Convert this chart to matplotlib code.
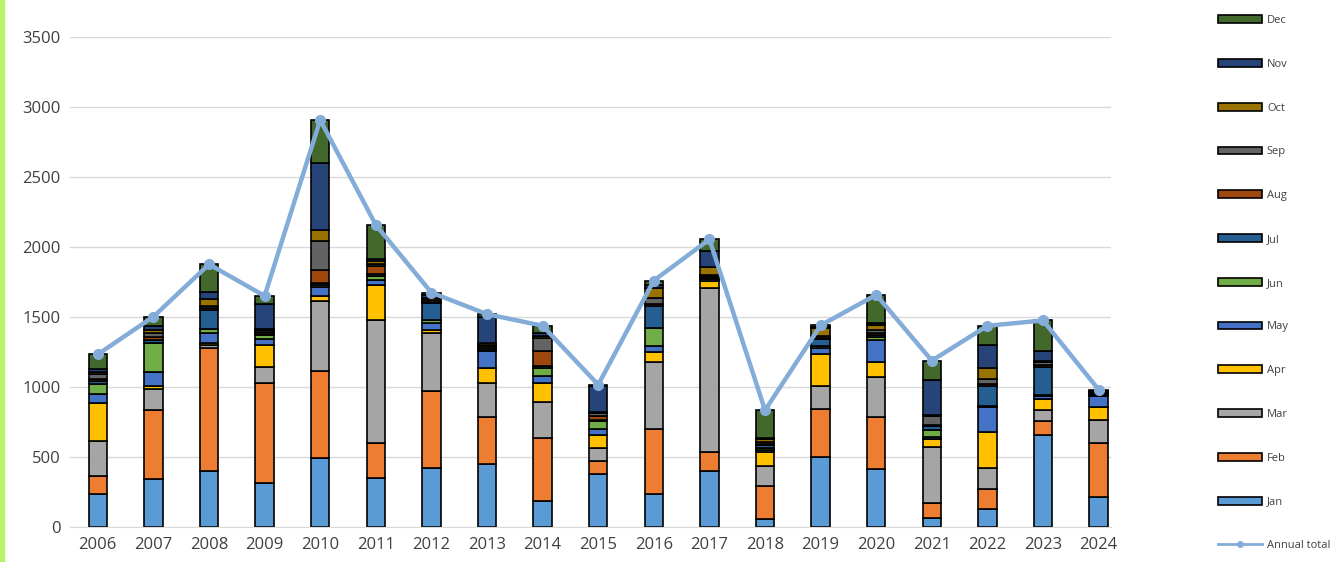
import numpy as np
import matplotlib.pyplot as plt
from matplotlib.patches import Rectangle

years = [str(y) for y in range(2006, 2025)]
months = ['Jan', 'Feb', 'Mar', 'Apr', 'May', 'Jun', 'Jul', 'Aug', 'Sep', 'Oct', 'Nov', 'Dec']

# monthly counts per year
jan = [238, 340, 400, 317, 495, 352, 423, 447, 185, 375, 233, 399, 55, 499, 411, 67, 126, 660, 214]
feb = [126, 493, 881, 714, 619, 249, 546, 337, 451, 95, 467, 138, 237, 344, 373, 102, 142, 100, 387]
mar = [250, 150, 17, 112, 500, 874, 420, 244, 257, 95, 476, 1173, 147, 162, 285, 401, 155, 78, 166]
apr = [269, 24, 19, 155, 36, 254, 15, 107, 135, 95, 71, 47, 95, 232, 107, 59, 256, 76, 88]
may = [65, 100, 71, 42, 64, 36, 52, 119, 48, 40, 43, 12, 19, 41, 161, 15, 176, 19, 78]
jun = [71, 210, 24, 29, 12, 28, 24, 12, 59, 55, 130, 7, 12, 12, 17, 52, 12, 12, 7]
jul = [24, 19, 136, 9, 14, 14, 118, 12, 17, 12, 159, 7, 17, 52, 19, 24, 142, 197, 7]
aug = [17, 24, 19, 14, 96, 57, 12, 12, 102, 23, 15, 7, 12, 10, 12, 9, 12, 17, 7]
sep = [30, 25, 12, 13, 207, 16, 12, 10, 95, 25, 40, 10, 16, 10, 23, 62, 36, 17, 7]
oct_ = [17, 20, 47, 7, 76, 20, 13, 12, 17, 9, 71, 60, 15, 58, 36, 12, 78, 12, 6]
nov = [19, 31, 53, 178, 483, 14, 23, 191, 19, 181, 24, 111, 11, 10, 12, 249, 167, 66, 7]
dec = [107, 66, 197, 60, 305, 243, 16, 17, 52, 11, 31, 83, 198, 10, 202, 136, 135, 221, 7]

annual_total = [1233, 1502, 1876, 1650, 2907, 2157, 1674, 1520, 1437, 1016, 1760, 2054,
                834, 1440, 1658, 1188, 1437, 1475, 981]

monthly = [jan, feb, mar, apr, may, jun, jul, aug, sep, oct_, nov, dec]
colors = ['#5B9BD5', '#ED7D31', '#A5A5A5', '#FFC000', '#4472C4', '#70AD47',
          '#255E91', '#9E480E', '#636363', '#997300', '#264478', '#43682B']
line_color = '#84ACD8'

fig = plt.figure(figsize=(13.31, 5.62), dpi=100)
ax = fig.add_axes([0.0526, 0.0623, 0.782, 0.872])

x = np.arange(len(years))
bottom = np.zeros(len(years))
handles = []
for vals, col, name in zip(monthly, colors, months):
    b = ax.bar(x, vals, 0.33, bottom=bottom, color=col, edgecolor='black',
               linewidth=1.2, label=name, zorder=2)
    handles.append(b)
    bottom += np.array(vals)

ln, = ax.plot(x, annual_total, color=line_color, lw=3.2, marker='o', ms=7,
              label='Annual total', zorder=3)

ax.set_xlim(-0.5, 18.22)
ax.set_ylim(0, 3500)
ax.set_yticks(np.arange(0, 3501, 500))
ax.set_xticks(x)
ax.set_xticklabels(years)
ax.yaxis.grid(True, color='#D9D9D9', lw=1)
ax.set_axisbelow(True)
for s in ['top', 'right', 'left']:
    ax.spines[s].set_visible(False)
ax.spines['bottom'].set_color('#D9D9D9')
ax.tick_params(length=0, labelsize=12, colors='#404040', pad=7)
for lbl in ax.get_xticklabels() + ax.get_yticklabels():
    lbl.set_fontfamily('Open Sans')

leg = fig.legend(handles[::-1] + [ln], months[::-1] + ['Annual total'],
                 loc='upper left', bbox_to_anchor=(1218 / 1331, 1 - 15 / 562),
                 frameon=False, fontsize=8, labelspacing=2.95, handlelength=4.0,
                 handleheight=0.7, handletextpad=0.4, borderpad=0, borderaxespad=0)
for t in leg.get_texts():
    t.set_color('#404040')
    t.set_fontfamily('Open Sans')
leg.legend_handles[-1].set_linewidth(2)
leg.legend_handles[-1].set_markersize(4)

# lime border on the left edge
fig.patches.append(Rectangle((0, 0), 4 / 1331, 1, transform=fig.transFigure,
                             color='#B8F266', zorder=0))

fig.savefig('out.png', dpi=100)
